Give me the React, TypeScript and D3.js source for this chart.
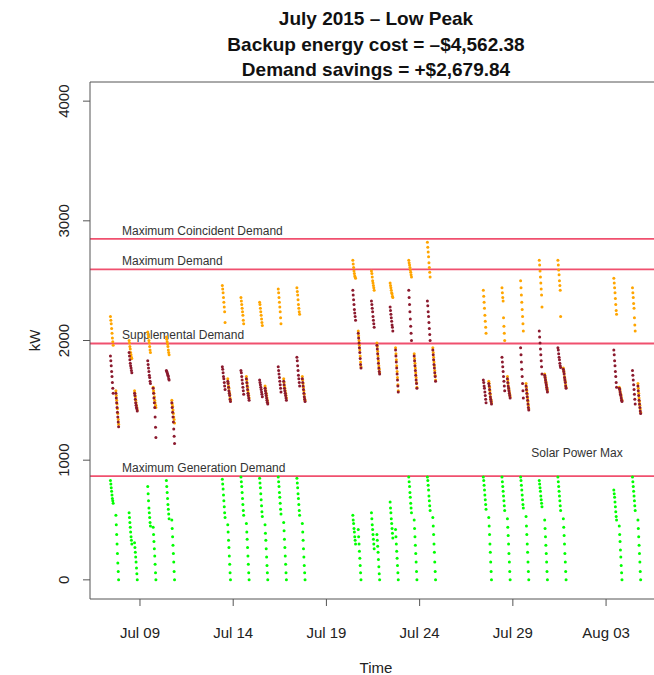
import React from 'react';
import * as d3 from 'd3';

// chart text
const titleLines = ['July 2015 \u2013 Low Peak', 'Backup energy cost = \u2013$4,562.38', 'Demand savings = +$2,679.84'];
const xLabel = 'Time';
const yLabel = 'kW';

// axes
const yTicks = [0, 1000, 2000, 3000, 4000];
const xTickDates = ['2015-07-09', '2015-07-14', '2015-07-19', '2015-07-24', '2015-07-29', '2015-08-03'];
const xTickLabels = ['Jul 09', 'Jul 14', 'Jul 19', 'Jul 24', 'Jul 29', 'Aug 03'];

// horizontal reference lines
const refLabels = ['Maximum Coincident Demand', 'Maximum Demand', 'Supplemental Demand', 'Maximum Generation Demand'];
const refValues = [2850, 2595, 1975, 867];
const solarMaxLabel = 'Solar Power Max';

// sampled days and hours
const days = ['2015-07-07', '2015-07-08', '2015-07-09', '2015-07-10',
  '2015-07-13', '2015-07-14', '2015-07-15', '2015-07-16', '2015-07-17',
  '2015-07-20', '2015-07-21', '2015-07-22', '2015-07-23', '2015-07-24',
  '2015-07-27', '2015-07-28', '2015-07-29', '2015-07-30', '2015-07-31',
  '2015-08-03', '2015-08-04'];
const amHours = [10, 10.5, 11, 11.5, 12, 12.5, 13, 13.5];
const pmHours = [17, 17.5, 18, 18.5, 19, 19.5, 20, 20.5];

// building load (orange)
const loadAM = [
  [2200, 2170, 2140, 2100, 2060, 2020, 1990, 1960],
  [2000, 1980, 1950, 1930, 1900, 1880, 1860, 1850],
  [2070, 2050, 2030, 2000, 1980, 1950, 1920, 1900],
  [2030, 2010, 1990, 1970, 1950, 1920, 1900, 1880],
  [2460, 2430, 2400, 2360, 2320, 2280, 2240, 2150],
  [2360, 2330, 2300, 2270, 2240, 2210, 2170, 2140],
  [2320, 2300, 2270, 2240, 2210, 2180, 2150, 2125],
  [2430, 2400, 2360, 2320, 2280, 2240, 2190, 2140],
  [2440, 2410, 2380, 2340, 2300, 2270, 2240, 2220],
  [2670, 2640, 2610, 2580, 2560, 2540, 2530, 2520],
  [2580, 2560, 2530, 2500, 2480, 2460, 2440, 2420],
  [2480, 2460, 2440, 2420, 2400, 2390, 2370, 2360],
  [2670, 2650, 2630, 2610, 2590, 2570, 2550, 2530],
  [2820, 2780, 2740, 2700, 2650, 2610, 2570, 2530],
  [2420, 2370, 2320, 2270, 2210, 2160, 2110, 2060],
  [2440, 2400, 2360, 2330, 2190, 2120, 2060, 2000],
  [2500, 2440, 2380, 2320, 2260, 2200, 2140, 2080],
  [2670, 2630, 2580, 2530, 2480, 2430, 2380, 2280],
  [2670, 2630, 2590, 2550, 2500, 2460, 2420, 2200],
  [2520, 2480, 2440, 2400, 2350, 2300, 2250, 2220],
  [2440, 2400, 2360, 2310, 2270, 2190, 2130, 2080],
];
const loadPM = [
  [1580, 1540, 1500, 1470, 1430, 1390, 1340, 1300],
  [1580, 1560, 1530, 1500, 1480, 1460, 1440, 1420],
  [1610, 1580, 1560, 1530, 1500, 1480, 1460, 1440],
  [1500, 1470, 1450, 1420, 1390, 1360, 1340, 1310],
  [1680, 1650, 1620, 1600, 1570, 1550, 1520, 1500],
  [1700, 1670, 1640, 1610, 1580, 1560, 1540, 1520],
  [1620, 1600, 1580, 1560, 1540, 1520, 1500, 1480],
  [1680, 1650, 1620, 1600, 1580, 1560, 1540, 1520],
  [1700, 1670, 1640, 1610, 1580, 1550, 1520, 1500],
  [2080, 2040, 2000, 1960, 1920, 1870, 1820, 1780],
  [1980, 1950, 1910, 1870, 1830, 1790, 1760, 1730],
  [1940, 1890, 1840, 1790, 1740, 1690, 1630, 1580],
  [1890, 1850, 1810, 1770, 1730, 1690, 1650, 1610],
  [1940, 1900, 1860, 1820, 1790, 1750, 1710, 1670],
  [1660, 1640, 1610, 1580, 1550, 1520, 1500, 1480],
  [1700, 1670, 1640, 1610, 1590, 1570, 1550, 1530],
  [1640, 1610, 1580, 1550, 1520, 1490, 1460, 1430],
  [1720, 1700, 1680, 1660, 1640, 1620, 1600, 1580],
  [1770, 1750, 1730, 1700, 1680, 1660, 1630, 1610],
  [1610, 1600, 1580, 1560, 1550, 1530, 1510, 1500],
  [1640, 1600, 1560, 1520, 1490, 1460, 1430, 1400],
];

// net demand (dark red)
const netAM = [
  [1870, 1830, 1790, 1740, 1700, 1650, 1600, 1560],
  [1900, 1870, 1840, 1810, 1790, 1770, 1750, 1730],
  [1830, 1800, 1770, 1740, 1710, 1690, 1660, 1640],
  [1750, 1740, 1730, 1720, 1710, 1700, 1680, 1670],
  [1780, 1760, 1730, 1700, 1680, 1650, 1620, 1590],
  [1750, 1730, 1700, 1670, 1640, 1610, 1580, 1550],
  [1670, 1650, 1630, 1610, 1590, 1570, 1550, 1530],
  [1780, 1750, 1720, 1690, 1660, 1630, 1600, 1570],
  [1860, 1830, 1790, 1750, 1710, 1680, 1650, 1620],
  [2420, 2380, 2340, 2300, 2260, 2230, 2200, 2170],
  [2330, 2300, 2270, 2240, 2200, 2170, 2140, 2110],
  [2280, 2250, 2220, 2190, 2160, 2130, 2110, 2080],
  [2420, 2360, 2300, 2240, 2180, 2120, 2060, 2000],
  [2330, 2290, 2240, 2200, 2150, 2100, 2050, 2000],
  [1670, 1650, 1620, 1600, 1570, 1540, 1510, 1480],
  [1860, 1820, 1780, 1740, 1700, 1660, 1620, 1580],
  [1940, 1880, 1820, 1760, 1700, 1640, 1580, 1520],
  [2080, 2030, 1980, 1930, 1880, 1830, 1780, 1720],
  [1940, 1920, 1890, 1860, 1840, 1810, 1790, 1775],
  [1920, 1880, 1830, 1790, 1740, 1700, 1650, 1610],
  [1750, 1710, 1670, 1630, 1590, 1550, 1510, 1470],
];
const netPM = [
  [1560, 1520, 1480, 1440, 1400, 1360, 1320, 1280],
  [1560, 1540, 1510, 1480, 1460, 1440, 1430, 1410],
  [1600, 1560, 1520, 1480, 1440, 1360, 1275, 1190],
  [1480, 1440, 1400, 1360, 1320, 1260, 1200, 1140],
  [1660, 1640, 1610, 1580, 1560, 1540, 1510, 1490],
  [1680, 1650, 1620, 1590, 1560, 1540, 1520, 1500],
  [1600, 1580, 1560, 1540, 1520, 1500, 1485, 1470],
  [1660, 1630, 1600, 1580, 1560, 1540, 1520, 1500],
  [1680, 1650, 1620, 1590, 1560, 1530, 1510, 1490],
  [2060, 2020, 1980, 1940, 1900, 1850, 1800, 1770],
  [1960, 1930, 1890, 1850, 1810, 1770, 1740, 1720],
  [1920, 1870, 1820, 1770, 1720, 1670, 1620, 1570],
  [1870, 1830, 1790, 1750, 1710, 1670, 1640, 1600],
  [1920, 1880, 1840, 1800, 1770, 1730, 1700, 1660],
  [1640, 1620, 1590, 1560, 1530, 1510, 1490, 1470],
  [1680, 1650, 1620, 1600, 1580, 1560, 1540, 1520],
  [1620, 1590, 1560, 1530, 1500, 1470, 1440, 1420],
  [1710, 1690, 1670, 1650, 1630, 1610, 1590, 1570],
  [1760, 1740, 1720, 1690, 1670, 1650, 1620, 1600],
  [1600, 1590, 1570, 1550, 1540, 1520, 1500, 1490],
  [1620, 1580, 1540, 1500, 1470, 1440, 1410, 1390],
];

// solar generation (green)
const solarAM = [
  [830, 800, 770, 740, 710, 680, 660, 640],
  [560, 520, 480, 440, 400, 360, 330, 300],
  [780, 720, 660, 600, 560, 520, 480, 450],
  [830, 780, 730, 680, 630, 590, 550, 510],
  [840, 800, 760, 710, 660, 610, 560, 520],
  [860, 820, 780, 730, 680, 630, 580, 540],
  [850, 810, 770, 720, 670, 620, 570, 530],
  [860, 820, 780, 730, 690, 640, 590, 550],
  [850, 810, 770, 720, 680, 630, 580, 540],
  [540, 500, 470, 430, 400, 360, 330, 300],
  [560, 510, 460, 420, 380, 340, 300, 260],
  [650, 600, 560, 510, 470, 430, 390, 350],
  [860, 820, 780, 730, 690, 640, 600, 560],
  [860, 830, 790, 750, 700, 660, 620, 580],
  [860, 830, 790, 750, 710, 670, 630, 590],
  [860, 820, 780, 740, 700, 660, 620, 580],
  [860, 830, 790, 750, 710, 670, 630, 600],
  [830, 800, 770, 740, 700, 670, 640, 610],
  [860, 820, 780, 740, 700, 660, 620, 580],
  [750, 720, 690, 650, 610, 570, 530, 500],
  [860, 820, 780, 740, 700, 660, 620, 580],
];
const solarPM = [
  [540, 460, 380, 300, 220, 140, 70, 0],
  [310, 270, 230, 190, 150, 100, 50, 0],
  [440, 380, 320, 260, 200, 130, 60, 0],
  [500, 430, 360, 290, 220, 150, 70, 0],
  [460, 400, 330, 270, 200, 130, 60, 0],
  [470, 400, 340, 270, 200, 130, 60, 0],
  [460, 390, 330, 260, 190, 120, 60, 0],
  [480, 410, 340, 270, 200, 130, 60, 0],
  [470, 400, 330, 260, 190, 120, 60, 0],
  [420, 360, 300, 240, 180, 120, 60, 0],
  [380, 330, 280, 230, 170, 110, 50, 0],
  [420, 360, 300, 240, 180, 120, 60, 0],
  [500, 430, 360, 290, 220, 150, 70, 0],
  [520, 450, 380, 300, 230, 150, 70, 0],
  [520, 450, 380, 300, 230, 150, 70, 0],
  [510, 440, 370, 300, 220, 150, 70, 0],
  [530, 450, 380, 300, 230, 150, 70, 0],
  [500, 430, 360, 290, 220, 150, 70, 0],
  [510, 440, 370, 300, 220, 150, 70, 0],
  [450, 380, 320, 250, 190, 120, 60, 0],
  [500, 430, 360, 290, 220, 150, 70, 0],
];

const W = 654, H = 675;
const plot = { left: 90, right: 662, top: 82, bottom: 599 };
const font = '"Liberation Sans", Arial, Helvetica, sans-serif';

const x = d3.scaleUtc()
  .domain([Date.UTC(2015, 6, 6, 7, 40), Date.UTC(2015, 7, 6, 0, 0)])
  .range([plot.left, plot.right]);
const y = d3.scaleLinear().domain([-160, 4160]).range([plot.bottom, plot.top]);

const toPoints = (series: number[][], hours: number[]) =>
  series.flatMap((vals, i) => {
    const day = new Date(days[i] + 'T00:00:00Z').getTime();
    return vals.map((v, j) => ({ t: day + hours[j] * 3600000, v }));
  });

const layers = [
  { color: '#ffa500', pts: [...toPoints(loadAM, amHours), ...toPoints(loadPM, pmHours)] },
  { color: '#8b1a2e', pts: [...toPoints(netAM, amHours), ...toPoints(netPM, pmHours)] },
  { color: '#00ff00', pts: [...toPoints(solarAM, amHours), ...toPoints(solarPM, pmHours)] },
];

export default function App() {
  return (
    <svg width={W} height={H} style={{ position: 'absolute', left: 0, top: 0, background: '#fff' }}>
      <defs>
        <clipPath id="plotclip">
          <rect x={plot.left} y={plot.top} width={plot.right - plot.left} height={plot.bottom - plot.top} />
        </clipPath>
      </defs>

      {/* title */}
      {titleLines.map((t, i) => (
        <text key={t} x={376} y={25 + i * 25.5} textAnchor="middle" fontFamily={font}
          fontWeight="bold" fontSize={19} fill="#111">{t}</text>
      ))}

      {/* reference lines */}
      <g clipPath="url(#plotclip)">
        {refValues.map((v, i) => (
          <g key={refLabels[i]}>
            <line x1={plot.left} x2={plot.right} y1={y(v)} y2={y(v)} stroke="#f0506e" strokeWidth={1.8} />
            <text x={122} y={y(v) - 4} fontFamily={font} fontSize={12} fill="#333">{refLabels[i]}</text>
          </g>
        ))}
        <text x={577} y={y(refValues[3]) - 19} textAnchor="middle" fontFamily={font} fontSize={12} fill="#333">
          {solarMaxLabel}
        </text>

        {/* points */}
        {layers.map((l) => (
          <g key={l.color} fill={l.color}>
            {l.pts.map((p, i) => (
              <circle key={i} cx={x(p.t)} cy={y(p.v)} r={1.5} />
            ))}
          </g>
        ))}
      </g>

      {/* frame */}
      <path d={`M${plot.right},${plot.top}H${plot.left}V${plot.bottom}H${plot.right}`} fill="none" stroke="#555" strokeWidth={1} />

      {/* y axis */}
      {yTicks.map((t) => (
        <g key={t}>
          <line x1={plot.left - 7} x2={plot.left} y1={y(t)} y2={y(t)} stroke="#555" />
          <text transform={`translate(69,${y(t)}) rotate(-90)`} textAnchor="middle" fontFamily={font}
            fontSize={15} fill="#222">{t}</text>
        </g>
      ))}
      <text transform={`translate(40,${(plot.top + plot.bottom) / 2}) rotate(-90)`} textAnchor="middle"
        fontFamily={font} fontSize={15} fill="#222">{yLabel}</text>

      {/* x axis */}
      {xTickDates.map((d, i) => {
        const px = x(new Date(d + 'T00:00:00Z'));
        return (
          <g key={d}>
            <line x1={px} x2={px} y1={plot.bottom} y2={plot.bottom + 7} stroke="#555" />
            <text x={px} y={638} textAnchor="middle" fontFamily={font} fontSize={15} fill="#222">{xTickLabels[i]}</text>
          </g>
        );
      })}
      <text x={376} y={673} textAnchor="middle" fontFamily={font} fontSize={15} fill="#222">{xLabel}</text>
    </svg>
  );
}
